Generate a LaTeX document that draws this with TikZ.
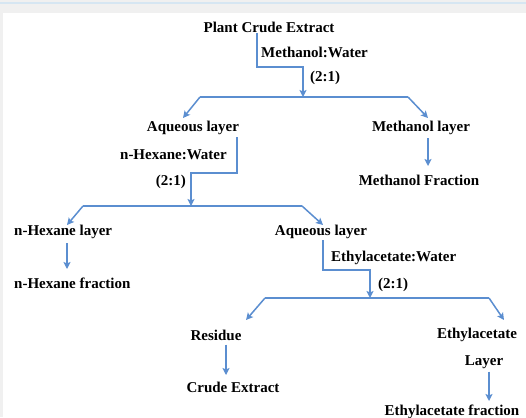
\documentclass[tikz,border=0pt]{standalone}
\usepackage{fontspec}
\setmainfont{Liberation Serif}
\usetikzlibrary{arrows.meta}
\definecolor{lineblue}{HTML}{5B8ED0}
\definecolor{bandgray}{HTML}{F0F0F0}
\definecolor{bandblue}{HTML}{D6E6F2}
\tikzset{
  lbl/.style={font=\fontsize{15}{17}\selectfont\bfseries, inner sep=0pt, text=black},
  flow/.style={draw=lineblue, line width=1.5pt},
  arr/.style={flow, -{Stealth[length=7pt,width=7pt,inset=1.5pt]}},
}
\begin{document}
\begin{tikzpicture}[x=1pt,y=-1pt]
\useasboundingbox (0,0) rectangle (526,417);
\fill[white] (0,0) rectangle (526,417);
\fill[bandgray] (0,0) rectangle (526,13);
\fill[bandblue] (0,2.5) rectangle (526,4.5);
\fill[bandgray] (0,13) rectangle (2.5,417);

% nodes
\node[lbl] (plant) at (269,27) {Plant Crude Extract};
\node[lbl, anchor=west] (mw) at (261,52) {Methanol:Water};
\node[lbl, anchor=west] (r1) at (310,78) {(2:1)};
\node[lbl] (aq1) at (193,128) {Aqueous layer};
\node[lbl] (mel) at (421,128) {Methanol layer};
\node[lbl] (mef) at (419,180) {Methanol Fraction};
\node[lbl, anchor=east] (hw) at (227,155) {n-Hexane:Water};
\node[lbl, anchor=east] (r2) at (186,182) {(2:1)};
\node[lbl, anchor=west] (hl) at (14,232) {n-Hexane layer};
\node[lbl] (aq2) at (321,232) {Aqueous layer};
\node[lbl, anchor=west] (hf) at (14,283) {n-Hexane fraction};
\node[lbl, anchor=west] (ew) at (331,258) {Ethylacetate:Water};
\node[lbl, anchor=west] (r3) at (378,285) {(2:1)};
\node[lbl] (res) at (216,335) {Residue};
\node[lbl] (ea) at (477,335) {Ethylacetate};
\node[lbl] (lay) at (484,362) {Layer};
\node[lbl] (ce) at (233,387) {Crude Extract};
\node[lbl] (eaf) at (452,412) {Ethylacetate fraction};

% coordinates
\coordinate (b1) at (303,97);
\coordinate (b1l) at (200,97);
\coordinate (b1r) at (408,97);
\coordinate (b2) at (191,206);
\coordinate (b2l) at (83,206);
\coordinate (b2r) at (302,206);
\coordinate (b3) at (370,298);
\coordinate (b3l) at (265,298);
\coordinate (b3r) at (489,298);

% first split
\draw[arr] (plant.south -| 257,0) ++(0,1) |- (303,67) -- (b1);
\draw[flow] (b1l) -- (b1r);
\draw[arr] (b1l) -- (183,118);
\draw[arr] (b1r) -- (428,118);
\draw[arr] (mel.south -| 428,0) ++(0,3) -- (428,166);

% second split
\draw[arr] (aq1.south -| 237,0) ++(0,2) |- (191,173) -- (b2);
\draw[flow] (b2l) -- (b2r);
\draw[arr] (b2l) -- (67,225);
\draw[arr] (b2r) -- (323,225);
\draw[arr] (hl.south -| 67,0) ++(0,4) -- (67,269);

% third split
\draw[arr] (aq2.south -| 323,0) ++(0,1) |- (370,270) -- (b3);
\draw[flow] (b3l) -- (b3r);
\draw[arr] (b3l) -- (246,320);
\draw[arr] (b3r) -- (504,320);
\draw[arr] (res.south -| 226,0) ++(0,4) -- (226,375);
\draw[arr] (lay.south -| 489,0) ++(0,3) -- (489,401);
\end{tikzpicture}
\end{document}
